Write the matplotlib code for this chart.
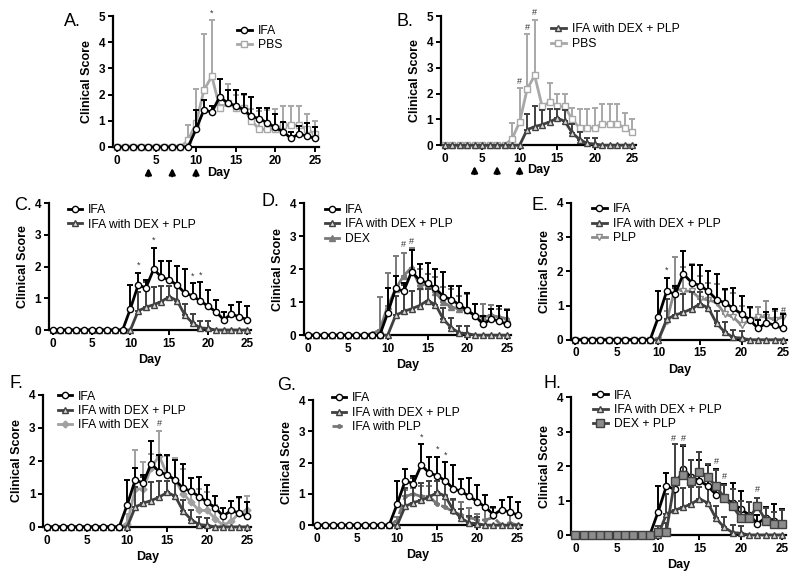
import numpy as np
import matplotlib
matplotlib.use("Agg")
import matplotlib.pyplot as plt

plt.rcParams['font.family'] = ['Liberation Sans', 'DejaVu Sans']

days = np.arange(26)

# mean clinical score per day, and upper SD
ifa = [0, 0, 0, 0, 0, 0, 0, 0, 0, 0, 0.67, 1.42, 1.33, 1.92, 1.67, 1.58, 1.42, 1.17, 1.08, 0.92, 0.75, 0.58, 0.33, 0.5, 0.42, 0.33]
ifa_err = [0, 0, 0, 0, 0, 0, 0, 0, 0, 0, 0.75, 0.38, 0.25, 0.67, 0.5, 0.6, 0.6, 0.75, 0.4, 0.58, 0.52, 0.37, 0.25, 0.3, 0.48, 0.42]

ifa_dexplp = [0, 0, 0, 0, 0, 0, 0, 0, 0, 0, 0, 0.6, 0.72, 0.8, 0.9, 1.05, 0.93, 0.48, 0.22, 0.07, 0.05, 0, 0, 0, 0, 0]
ifa_dexplp_err = [0, 0, 0, 0, 0, 0, 0, 0, 0, 0, 0, 0.6, 0.8, 0.55, 0.5, 0.35, 0.45, 0.35, 0.3, 0.22, 0.22, 0, 0, 0, 0, 0]

pbs = [0, 0, 0, 0, 0, 0, 0, 0, 0, 0.25, 0.9, 2.17, 2.7, 1.5, 1.67, 1.5, 1.5, 1.0, 0.67, 0.67, 0.67, 0.83, 0.83, 0.83, 0.67, 0.5]
pbs_err = [0, 0, 0, 0, 0, 0, 0, 0, 0, 0.6, 1.3, 2.15, 2.15, 0.1, 0.72, 0.5, 0.5, 0.45, 0.72, 0.75, 0.78, 0.75, 0.75, 0.75, 0.58, 0.5]

dex = [0, 0, 0, 0, 0, 0, 0, 0, 0.05, 0.15, 0.88, 1.4, 1.8, 2.05, 1.5, 1.55, 1.3, 1.0, 0.85, 0.8, 0.75, 0.6, 0.55, 0.6, 0.55, 0.5]
dex_err = [0, 0, 0, 0, 0, 0, 0, 0, 0, 1.0, 1.0, 1.0, 0.7, 0.6, 0.5, 0.3, 0.45, 0.45, 0.55, 0.4, 0.5, 0.35, 0.4, 0.32, 0.25, 0.28]

plp = [0, 0, 0, 0, 0, 0, 0, 0, 0, 0, 0, 0.55, 1.5, 1.42, 1.42, 1.2, 1.17, 1.08, 0.75, 0.67, 0.42, 0.58, 0.67, 0.67, 0.58, 0.67]
plp_err = [0, 0, 0, 0, 0, 0, 0, 0, 0, 0, 0, 0.3, 0.92, 0.7, 0.8, 0.65, 0.5, 0.55, 0.7, 0.7, 0.58, 0.35, 0.3, 0.45, 0.25, 0.12]

ifa_dex = [0, 0, 0, 0, 0, 0, 0, 0, 0, 0, 0.1, 1.15, 1.15, 1.8, 2.15, 1.58, 1.42, 1.0, 0.75, 0.5, 0.5, 0.25, 0.05, 0.17, 0.42, 0.5]
ifa_dex_err = [0, 0, 0, 0, 0, 0, 0, 0, 0, 0, 0.3, 1.17, 0.82, 0.4, 0.77, 0.57, 0.68, 0.75, 0.73, 0.65, 0.55, 0.4, 0.25, 0.33, 0.47, 0.45]

ifa_plp = [0, 0, 0, 0, 0, 0, 0, 0, 0, 0, 0.15, 0.92, 1.0, 0.92, 0.92, 0.67, 0.58, 0.42, 0.33, 0.25, 0.17, 0.17, 0.25, 0.0, 0.08, 0.0]
ifa_plp_err = [0, 0, 0, 0, 0, 0, 0, 0, 0, 0, 0.1, 0.2, 0.2, 0.33, 0.33, 0.33, 0.4, 0.4, 0.4, 0.3, 0.2, 0.35, 0.3, 0, 0.25, 0]

dexplp = [0, 0, 0, 0, 0, 0, 0, 0, 0, 0, 0.1, 0.1, 1.58, 1.75, 1.58, 1.83, 1.67, 1.42, 1.08, 0.83, 0.5, 0.5, 0.83, 0.42, 0.33, 0.33]
dexplp_err = [0, 0, 0, 0, 0, 0, 0, 0, 0, 0, 0.15, 0.25, 1.07, 0.85, 0.6, 0.58, 0.4, 0.48, 0.37, 0.5, 0.5, 0.45, 0.25, 0.35, 0.35, 0.4]

# significance marks: (day, y, symbol)
sig_a = [(12, 4.95, '*')]
sig_b = [(10, 2.3, '#'), (11, 4.4, '#'), (12, 4.95, '#')]
sig_c = [(11, 1.9, '*'), (13, 2.68, '*'), (18, 1.55, '*'), (19, 1.58, '*')]
sig_d = [(12, 2.6, '#'), (13, 2.7, '#')]
sig_e = [(11, 1.9, '*'), (25, 0.72, '#')]
sig_f = [(14, 3.0, '#')]
sig_g = [(13, 2.68, '*'), (15, 2.28, '*'), (16, 2.1, '*')]
sig_h = [(11.9, 2.68, '#'), (13.1, 2.66, '#'), (17, 2.0, '#'), (18, 1.58, '#'), (22, 1.2, '#')]

# styles
st_ifa = dict(color='black', marker='o', mfc='white', ms=4.5, label='IFA', z=6)
st_idp = dict(color='#404040', marker='^', mfc='#d8d8d8', ms=4.5, label='IFA with DEX + PLP', z=5)
st_pbs = dict(color='#a8a8a8', marker='s', mfc='white', ms=5, label='PBS', z=4)
st_dex = dict(color='#7a7a7a', marker='^', mfc='#7a7a7a', ms=4.5, label='DEX', z=4)
st_plp = dict(color='#8c8c8c', marker='v', mfc='white', ms=5, label='PLP', z=4)
st_idex = dict(color='#a0a0a0', marker='D', mfc='#a0a0a0', ms=3.5, label='IFA with DEX', z=4)
st_iplp = dict(color='#777777', marker='o', mfc='#777777', ms=2.5, ls='--', label='IFA with PLP', z=4)
st_dp = dict(color='#404040', marker='s', mfc='#8c8c8c', ms=5.5, label='DEX + PLP', z=7)


def series(ax, y, err, st):
    z = st['z']
    ax.errorbar(days, y, yerr=[np.zeros(len(err)), err], fmt='none', ecolor=st['color'],
                elinewidth=1.4, capsize=2.5, capthick=1.4, zorder=z, clip_on=False)
    line, = ax.plot(days, y, color=st['color'], lw=2, ls=st.get('ls', '-'), marker=st['marker'],
                    mfc=st['mfc'], mec=st['color'], mew=1.0, ms=st['ms'], label=st['label'],
                    zorder=z + 0.5, clip_on=False)
    return line


def panel(rect, letter, letter_xy, items, legend_order, ymax, sig, leg_xy,
          day_pos=None, arrows=False):
    ax = fig.add_axes(rect)
    handles = {}
    for y, err, st in items:
        handles[st['label']] = series(ax, y, err, st)
    ax.set_xlim(-0.5, 25.5)
    ax.set_ylim(0, ymax)
    ax.set_xticks([0, 5, 10, 15, 20, 25])
    ax.set_yticks(range(ymax + 1))
    for s in ['top', 'right']:
        ax.spines[s].set_visible(False)
    for s in ['left', 'bottom']:
        ax.spines[s].set_linewidth(1.6)
    ax.tick_params(width=1.4, length=3.5, labelsize=8.5, pad=2)
    for lab in ax.get_xticklabels() + ax.get_yticklabels():
        lab.set_fontweight('bold')
    ax.set_ylabel('Clinical Score', fontsize=9, fontweight='bold', labelpad=4)
    for d, yy, s in sig:
        ax.text(d, yy, s, ha='center', va='bottom', fontsize=6.5, color='#333333')
    ax.legend([handles[k] for k in legend_order], legend_order, loc='upper left',
              bbox_to_anchor=leg_xy, frameon=False, fontsize=8.7,
              handlelength=1.2, handletextpad=0.5, labelspacing=0.2, borderaxespad=0)
    fig.text(letter_xy[0] / 800, 1 - letter_xy[1] / 574, letter, fontsize=13,
             ha='center', va='center')
    if arrows:
        for d in [4, 7, 10]:
            ax.annotate('', xy=(d, -0.14), xytext=(d, -0.245),
                        xycoords=('data', 'axes fraction'),
                        arrowprops=dict(arrowstyle='-|>', color='black', lw=1.6,
                                        mutation_scale=9))
        ax.text(day_pos[0], day_pos[1], 'Day', transform=ax.transAxes, fontsize=9,
                fontweight='bold', ha='left', va='center')
    else:
        ax.set_xlabel('Day', fontsize=9, fontweight='bold', labelpad=3)
    return ax


fig = plt.figure(figsize=(8, 5.74), dpi=100)

panel([0.141, 0.744, 0.2575, 0.228], 'A.', (72, 22),
      [(pbs, pbs_err, st_pbs), (ifa, ifa_err, st_ifa)], ['IFA', 'PBS'],
      5, sig_a, (0.58, 0.97), day_pos=(0.46, -0.2), arrows=True)
panel([0.551, 0.747, 0.244, 0.225], 'B.', (405, 22),
      [(pbs, pbs_err, st_pbs), (ifa_dexplp, ifa_dexplp_err, st_idp)],
      ['IFA with DEX + PLP', 'PBS'],
      5, sig_b, (0.54, 0.98), day_pos=(0.44, -0.19), arrows=True)

panel([0.061, 0.425, 0.2525, 0.221], 'C.', (23, 205),
      [(ifa_dexplp, ifa_dexplp_err, st_idp), (ifa, ifa_err, st_ifa)],
      ['IFA', 'IFA with DEX + PLP'], 4, sig_c, (0.07, 1.03))
panel([0.38, 0.416, 0.259, 0.23], 'D.', (270, 202),
      [(dex, dex_err, st_dex), (ifa_dexplp, ifa_dexplp_err, st_idp), (ifa, ifa_err, st_ifa)],
      ['IFA', 'IFA with DEX + PLP', 'DEX'], 4, sig_d, (0.077, 1.03))
panel([0.714, 0.408, 0.27, 0.239], 'E.', (540, 205),
      [(plp, plp_err, st_plp), (ifa_dexplp, ifa_dexplp_err, st_idp), (ifa, ifa_err, st_ifa)],
      ['IFA', 'IFA with DEX + PLP', 'PLP'], 4, sig_e, (0.074, 1.03))

panel([0.054, 0.082, 0.26, 0.23], 'F.', (16, 384),
      [(ifa_dex, ifa_dex_err, st_idex), (ifa_dexplp, ifa_dexplp_err, st_idp), (ifa, ifa_err, st_ifa)],
      ['IFA', 'IFA with DEX + PLP', 'IFA with DEX'], 4, sig_f, (0.046, 1.07))
panel([0.391, 0.085, 0.261, 0.218], 'G.', (287, 385),
      [(ifa_plp, ifa_plp_err, st_iplp), (ifa_dexplp, ifa_dexplp_err, st_idp), (ifa, ifa_err, st_ifa)],
      ['IFA', 'IFA with DEX + PLP', 'IFA with PLP'], 4, sig_g, (0.067, 1.1))
panel([0.714, 0.068, 0.269, 0.24], 'H.', (552, 383),
      [(ifa_dexplp, ifa_dexplp_err, st_idp), (ifa, ifa_err, st_ifa), (dexplp, dexplp_err, st_dp)],
      ['IFA', 'IFA with DEX + PLP', 'DEX + PLP'], 4, sig_h, (0.079, 1.09))

fig.savefig('out.png', dpi=100)
